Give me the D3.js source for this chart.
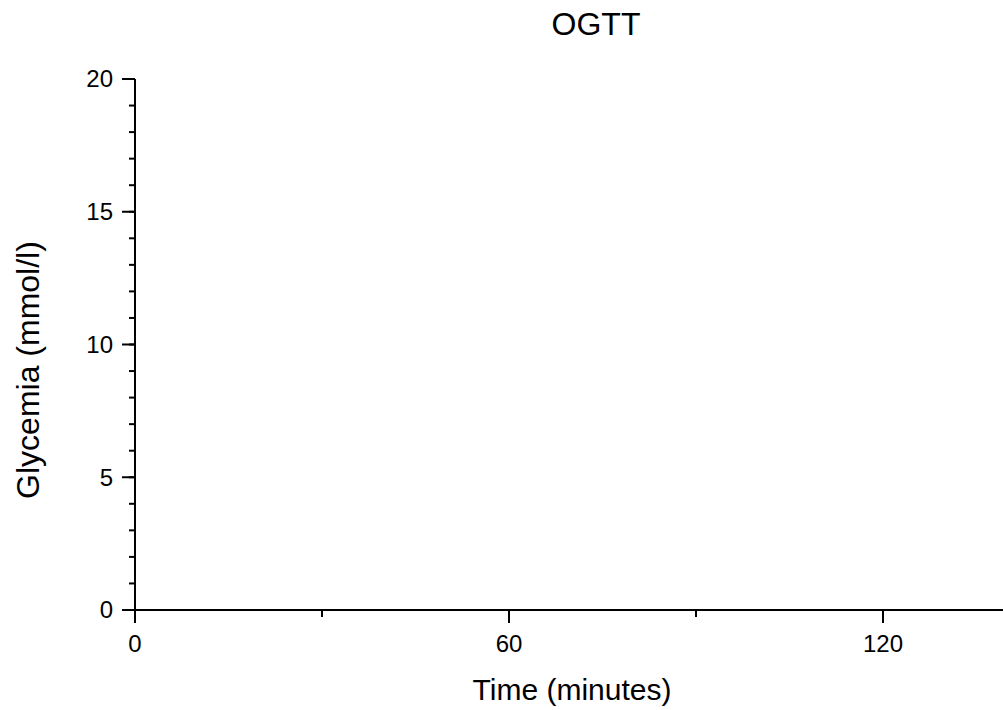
<!DOCTYPE html>
<html><head><meta charset="utf-8">
<script src="https://cdn.jsdelivr.net/npm/d3@7"></script>
<style>body{margin:0;background:#fff}svg{display:block;font-family:"Liberation Sans",Arial,sans-serif}</style>
</head><body>
<svg id="c" width="1003" height="710"></svg>
<script>
const title = "OGTT";
const xLabel = "Time (minutes)";
const yLabel = "Glycemia (mmol/l)";
const xDomain = [0, 140];
const yDomain = [0, 20];
const xMajorTicks = [0, 60, 120];
const xMinorTicks = [30, 90];
const yMajorTicks = [0, 5, 10, 15, 20];
const yMinorTicks = d3.range(0, 21, 1);
const series = []; // no data plotted

const svg = d3.select("#c");
const x = d3.scaleLinear().domain([0,120]).range([135, 883]);
const y = d3.scaleLinear().domain(yDomain).range([610, 79]);
const xEnd = x(xDomain[1]);

// x axis
const gx = svg.append("g").attr("transform","translate(0,610)");
gx.append("line").attr("x1",x(0)).attr("x2",xEnd).attr("stroke","#000").attr("stroke-width",2);
gx.selectAll(".mn").data(xMinorTicks).join("line").attr("x1",d=>x(d)).attr("x2",d=>x(d)).attr("y1",0).attr("y2",7).attr("stroke","#000").attr("stroke-width",2);
gx.selectAll(".mj").data(xMajorTicks).join("line").attr("x1",d=>x(d)).attr("x2",d=>x(d)).attr("y1",0).attr("y2",13).attr("stroke","#000").attr("stroke-width",2);
gx.selectAll("text").data(xMajorTicks).join("text").attr("x",d=>x(d)).attr("y",42).attr("text-anchor","middle").attr("font-size",24).text(d=>d);

// y axis
const gy = svg.append("g").attr("transform","translate(135,0)");
gy.append("line").attr("y1",y(yDomain[0])).attr("y2",y(yDomain[1])).attr("stroke","#000").attr("stroke-width",2);
gy.selectAll(".mn").data(yMinorTicks).join("line").attr("y1",d=>y(d)).attr("y2",d=>y(d)).attr("x1",0).attr("x2",-6).attr("stroke","#000").attr("stroke-width",2);
gy.selectAll(".mj").data(yMajorTicks).join("line").attr("y1",d=>y(d)).attr("y2",d=>y(d)).attr("x1",0).attr("x2",-13).attr("stroke","#000").attr("stroke-width",2);
gy.selectAll("text").data(yMajorTicks).join("text").attr("x",-22).attr("y",d=>y(d)).attr("dy","0.35em").attr("text-anchor","end").attr("font-size",24).text(d=>d);

svg.append("text").attr("x",596).attr("y",35).attr("text-anchor","middle").attr("font-size",32).text(title);
svg.append("text").attr("x",572).attr("y",700).attr("text-anchor","middle").attr("font-size",30).text(xLabel);
svg.append("text").attr("transform","translate(39,370) rotate(-90)").attr("text-anchor","middle").attr("font-size",32).text(yLabel);
</script>
</body></html>
